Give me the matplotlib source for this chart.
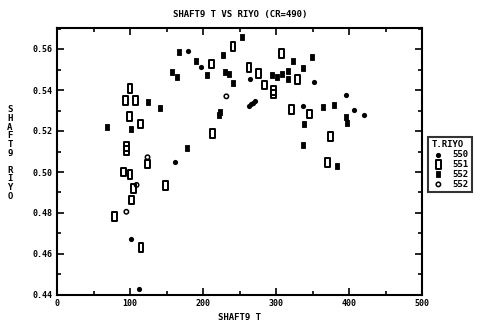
import matplotlib
matplotlib.use("Agg")
import matplotlib.pyplot as plt
from matplotlib.path import Path
import numpy as np

# ---- data ----
title = "SHAFT9 T VS RIYO (CR=490)"
xlabel = "SHAFT9 T"
ylabel = "SHAFT9 RIYO"
legend_title = "T.RIYO"
series_labels = ["550", "551", "552", "552"]

s50_x = [162, 102, 112, 180, 197, 264, 263, 266, 268, 271, 337, 352, 396, 407, 420]
s50_y = [0.5047, 0.4672, 0.4428, 0.5592, 0.5514, 0.5454, 0.5323, 0.5332, 0.5338, 0.5348,
         0.5320, 0.5440, 0.5377, 0.5302, 0.5278]

s51_x = [100, 94, 108, 99, 114, 95, 95, 124, 91, 100, 149, 105, 102, 79, 115,
         212, 213, 241, 263, 276, 284, 297, 297, 308, 329, 321, 346, 375, 371]
s51_y = [0.5408, 0.5348, 0.5348, 0.5270, 0.5234, 0.5125, 0.5105, 0.5039, 0.4999, 0.4989,
         0.4933, 0.4920, 0.4863, 0.4782, 0.4633,
         0.5527, 0.5189, 0.5611, 0.5509, 0.5480, 0.5424, 0.5397, 0.5380, 0.5577, 0.5452,
         0.5304, 0.5283, 0.5172, 0.5045]

s52_x = [68, 125, 141, 101, 178, 167, 190, 228, 205, 157, 165, 230, 236, 241, 223, 222,
         254, 323, 349, 294, 301, 308, 317, 317, 337, 338, 337, 364, 380, 396, 397, 384]
s52_y = [0.5221, 0.5343, 0.5311, 0.5211, 0.5119, 0.5584, 0.5543, 0.5571, 0.5473, 0.5489,
         0.5465, 0.5489, 0.5479, 0.5433, 0.5292, 0.5280,
         0.5660, 0.5540, 0.5559, 0.5473, 0.5464, 0.5479, 0.5494, 0.5456, 0.5509, 0.5235,
         0.5134, 0.5318, 0.5329, 0.5270, 0.5240, 0.5031]

s53_x = [124, 109, 95, 232]
s53_y = [0.5072, 0.4937, 0.4806, 0.5369]

# ---- style ----
FONT = "DejaVu Sans Mono"
plt.rcParams['font.family'] = [FONT]
plt.rcParams['font.weight'] = 'bold'

W, H = 492, 320
fig = plt.figure(figsize=(W / 100, H / 100), dpi=100)
L, R, T, B = 57, 422, 28, 295
ax = fig.add_axes([L / W, 1 - B / H, (R - L) / W, (B - T) / H])

tall_box = Path([(-0.55, -1), (0.55, -1), (0.55, 1), (-0.55, 1), (-0.55, -1)],
                [Path.MOVETO, Path.LINETO, Path.LINETO, Path.LINETO, Path.CLOSEPOLY])
tall_blob = Path([(-0.75, -1), (0.75, -1), (0.75, 1), (-0.75, 1), (-0.75, -1)],
                 [Path.MOVETO, Path.LINETO, Path.LINETO, Path.LINETO, Path.CLOSEPOLY])

ax.scatter(s50_x, s50_y, marker='o', s=14, c='black', linewidths=0, label=series_labels[0], zorder=3)
ax.scatter(s51_x, s51_y, marker=tall_box, s=38, facecolors='none', edgecolors='black',
           linewidths=1.4, label=series_labels[1], zorder=3)
ax.scatter(s52_x, s52_y, marker=tall_blob, s=16, c='black', edgecolors='black', linewidths=0.6,
           label=series_labels[2], zorder=3)
ax.scatter(s53_x, s53_y, marker='o', s=10, facecolors='none', edgecolors='black',
           linewidths=1.1, label=series_labels[3], zorder=3)

ax.set_xlim(0, 500)
ax.set_ylim(0.44, 0.44 + (B - T) / 2050)
ax.set_xticks(np.arange(0, 501, 100))
ax.set_xticks(np.arange(0, 501, 50), minor=True)
ax.set_yticks(np.arange(0.44, 0.5601, 0.02))
ax.set_yticks(np.arange(0.44, 0.5701, 0.01), minor=True)
ax.set_xticklabels([str(v) for v in range(0, 501, 100)])
ax.set_yticklabels(["%.2f" % v for v in np.arange(0.44, 0.5601, 0.02)])

for s in ax.spines.values():
    s.set_linewidth(1.5)
ax.tick_params(which='both', direction='in', top=True, right=True, width=1.2,
               labelsize=6, pad=3)
ax.tick_params(which='major', length=5)
ax.tick_params(which='minor', length=3)
for lbl in ax.get_xticklabels() + ax.get_yticklabels():
    lbl.set_fontweight('bold')

fig.text(240 / W, 1 - 15 / H, title, ha='center', va='center', fontsize=6.5, fontweight='bold')
fig.text(240 / W, 1 - 317 / H, xlabel, ha='center', va='center', fontsize=6.5, fontweight='bold')
fig.text(10 / W, 1 - 153 / H, "\n".join(ylabel), ha='center', va='center', fontsize=6.5,
         fontweight='bold', linespacing=0.95)

leg = fig.legend(loc='upper left', bbox_to_anchor=(428 / W, 1 - 137 / H), title=legend_title,
                 fontsize=6.5, title_fontsize=6.5, frameon=True, fancybox=False,
                 handlelength=1.6, handletextpad=0.8, borderpad=0.35, labelspacing=0.1,
                 alignment='left', borderaxespad=0)
leg.get_frame().set_edgecolor('black')
leg.get_frame().set_linewidth(1.5)
leg.get_title().set_fontweight('bold')
for t in leg.get_texts():
    t.set_fontweight('bold')

fig.savefig("out.png", dpi=100)
